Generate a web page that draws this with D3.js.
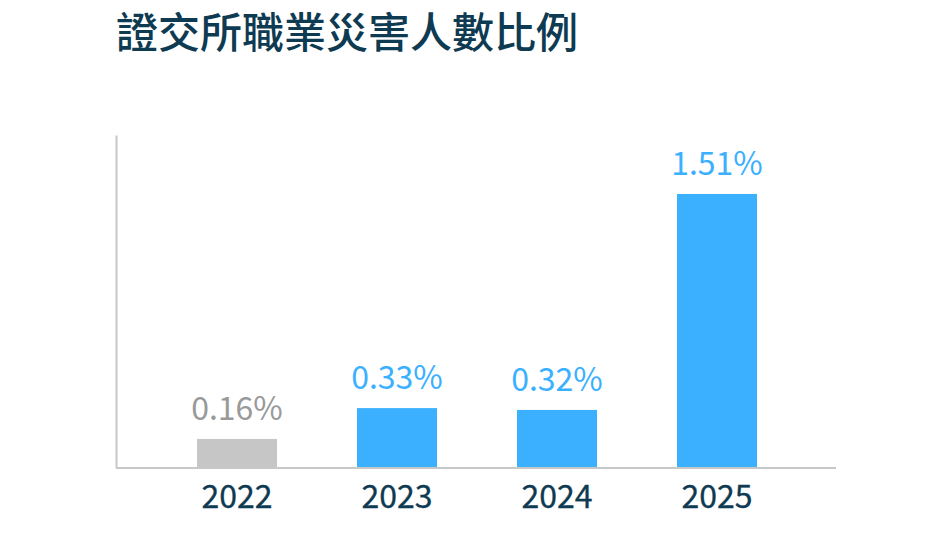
<!DOCTYPE html>
<html>
<head>
<meta charset="utf-8">
<script src="https://cdn.jsdelivr.net/npm/d3@7"></script>
<style>
  body { margin: 0; background: #fff; }
  svg { font-family: "Noto Sans CJK TC", "Noto Sans", sans-serif; }
</style>
</head>
<body>
<svg id="chart" width="952" height="560"></svg>
<script>
let years = ["2022", "2023", "2024", "2025"];
let ratios = [0.16, 0.33, 0.32, 1.51];
let valueLabels = ["0.16%", "0.33%", "0.32%", "1.51%"];
let title = "證交所職業災害人數比例";

let svg = d3.select("svg#chart");
let margin = { top: 135, left: 116, right: 116, bottom: 92 };
let svgWidth = +svg.attr("width");
let svgHeight = +svg.attr("height");
let chartBottom = svgHeight - margin.bottom;

const grey = "#c6c6c6", greyText = "#999999";
const blue = "#3bb0ff";
const navy = "#0e3a52";

// title
svg.append("text")
    .attr("x", 116)
    .attr("y", 48)
    .attr("font-size", 42)
    .attr("font-weight", 500)
    .attr("fill", navy)
    .text(title);

const xScale = d3.scaleBand()
    .domain(years)
    .range([margin.left, svgWidth - margin.right])
    .paddingInner(0.5)
    .paddingOuter(0.5);

const yScale = d3.scaleLinear()
    .domain([0, 1.835])
    .range([chartBottom, margin.top]);

let colorOf = (i) => i == 0 ? grey : blue;
let textColorOf = (i) => i == 0 ? greyText : blue;

let data = years.map((y, i) => ({ year: y, value: ratios[i], label: valueLabels[i], idx: i }));

// bars
svg.append("g")
    .selectAll("rect")
    .data(data)
    .join("rect")
    .attr("x", d => xScale(d.year) + 1)
    .attr("y", d => yScale(d.value))
    .attr("width", xScale.bandwidth())
    .attr("height", d => chartBottom - yScale(d.value))
    .attr("fill", d => colorOf(d.idx));

// value labels
svg.append("g")
    .selectAll("text")
    .data(data)
    .join("text")
    .attr("x", d => xScale(d.year) + 1 + xScale.bandwidth() / 2)
    .attr("y", d => yScale(d.value) - 19)
    .attr("text-anchor", "middle")
    .attr("font-size", 32)
    .attr("fill", d => textColorOf(d.idx))
    .text(d => d.label);

// axes lines
let bottomAxis = d3.axisBottom(xScale).tickSize(0).tickPadding(0).tickSizeOuter(0);
let xAxis = svg.append("g")
    .attr("transform", "translate(0," + chartBottom + ")")
    .call(bottomAxis);
xAxis.select(".domain").attr("stroke", "#c8c8c8").attr("stroke-width", 2)
    .attr("d", "M" + margin.left + ",0H" + (svgWidth - margin.right));
xAxis.selectAll(".tick text")
    .attr("font-size", 32)
    .attr("font-weight", 400)
    .attr("fill", navy)
    .attr("stroke", navy)
    .attr("stroke-width", 0.3)
    .attr("font-family", "Noto Sans CJK TC")
    .attr("dy", null)
    .attr("y", 40)
    .attr("dx", 1);

let leftAxis = d3.axisLeft(yScale).ticks(0).tickSize(0).tickSizeOuter(0);
let yAxis = svg.append("g")
    .attr("transform", "translate(" + margin.left + ",0)")
    .call(leftAxis);
yAxis.select(".domain").attr("stroke", "#c8c8c8").attr("stroke-width", 2);
yAxis.selectAll(".tick").remove();
</script>
</body>
</html>
